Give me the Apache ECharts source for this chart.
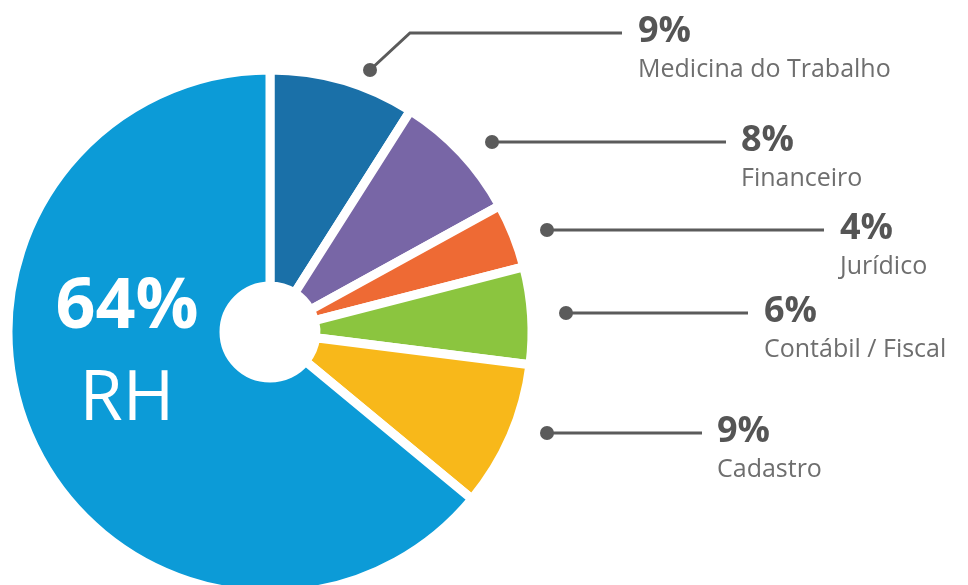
<!DOCTYPE html>
<html>
<head>
<meta charset="utf-8">
<script src="https://cdn.jsdelivr.net/npm/echarts@6/dist/echarts.min.js"></script>
<style>
  html, body { margin: 0; padding: 0; background: #ffffff; }
  #chart { width: 968px; height: 585px; }
</style>
</head>
<body>
<div id="chart"></div>
<script>
// ---- data ----
const categories = ['Medicina do Trabalho', 'Financeiro', 'Jurídico', 'Contábil / Fiscal', 'Cadastro', 'RH'];
const values = [9, 8, 4, 6, 9, 64];
const colors = ['#1a70a8', '#7866a6', '#ee6a34', '#8bc53f', '#f8b81a', '#0c9bd7'];

// ---- layout (label anchors, not data) ----
const dotPos   = [[370, 70], [492, 142], [547, 230], [566, 313], [547, 433]];
const elbowPos = [[410, 33], [600, 142], [680, 230], [650, 313], [620, 433]];
const lineEnd  = [[622, 33], [726, 142], [824, 230], [748, 313], [702, 433]];
const textPos  = [[638, 33], [741, 142], [840, 230], [764, 313], [717, 433]];
const centerLabel = [127, 354];

const FONT = '"Open Sans", "Noto Sans", sans-serif';

const chart = echarts.init(document.getElementById('chart'), null, { renderer: 'canvas' });

const mainData = categories.map((name, i) => {
  const item = { name: name, value: values[i], itemStyle: { color: colors[i] } };
  if (name === 'RH') {
    item.label = {
      formatter: '{p|{d}%}\n{n|{b}}',
      rich: {
        p: { fontFamily: FONT, fontSize: 70, fontWeight: 'bold', color: '#ffffff', lineHeight: 92, align: 'center' },
        n: { fontFamily: FONT, fontSize: 70, fontWeight: 'normal', color: '#ffffff', lineHeight: 92, align: 'center' }
      }
    };
    item.labelLine = { show: false };
  }
  return item;
});

const dotData = categories.map((name, i) => ({
  name: name, value: values[i],
  label: { show: name !== 'RH' }
}));

chart.setOption({
  animation: false,
  backgroundColor: '#ffffff',
  series: [
    {
      type: 'pie',
      center: [270, 332],
      radius: [46, 262],
      startAngle: 90,
      clockwise: true,
      avoidLabelOverlap: false,
      silent: true,
      itemStyle: { borderColor: '#ffffff', borderWidth: 9 },
      label: {
        show: true,
        formatter: '{p|{d}%}\n{n|{b}}',
        rich: {
          p: { fontFamily: FONT, fontSize: 36, fontWeight: 'bold', color: '#555555', lineHeight: 40 },
          n: { fontFamily: FONT, fontSize: 25, color: '#6e6e6e', lineHeight: 36 }
        }
      },
      labelLine: { show: true, lineStyle: { color: '#5b5b5b', width: 3 } },
      labelLayout: function (params) {
        const i = params.dataIndex;
        if (i === 5) {
          return { x: centerLabel[0], y: centerLabel[1], align: 'center', verticalAlign: 'middle' };
        }
        return {
          x: textPos[i][0],
          y: textPos[i][1] - 21,
          align: 'left',
          verticalAlign: 'top',
          labelLinePoints: [dotPos[i], elbowPos[i], lineEnd[i]]
        };
      },
      data: mainData
    },
    {
      type: 'pie',
      center: [270, 332],
      radius: [46, 262],
      startAngle: 90,
      clockwise: true,
      silent: true,
      z: 5,
      avoidLabelOverlap: false,
      itemStyle: { color: 'rgba(0,0,0,0)', borderWidth: 0 },
      label: {
        show: true,
        formatter: '{d| }',
        rich: { d: { width: 14, height: 14, borderRadius: 7, backgroundColor: '#5b5b5b' } }
      },
      labelLine: { show: false },
      labelLayout: function (params) {
        const i = params.dataIndex;
        if (i >= dotPos.length) return {};
        return { x: dotPos[i][0], y: dotPos[i][1], align: 'center', verticalAlign: 'middle' };
      },
      data: dotData
    }
  ]
});
</script>
</body>
</html>
